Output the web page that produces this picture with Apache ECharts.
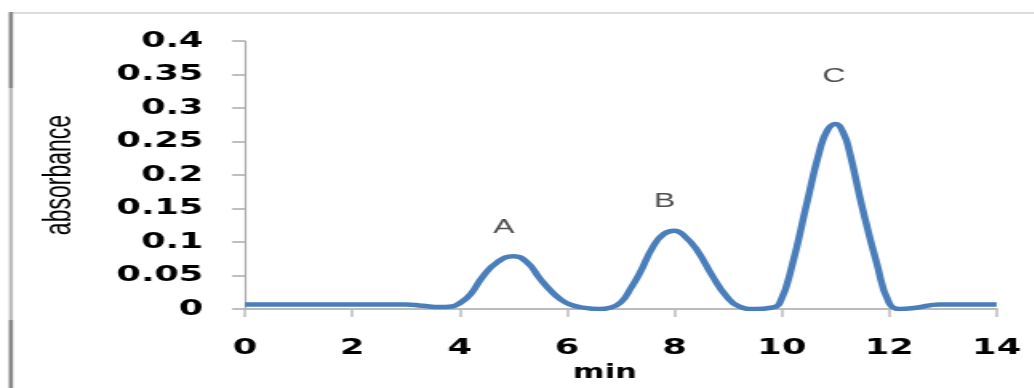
<!DOCTYPE html>
<html>
<head>
<meta charset="utf-8">
<script src="https://cdn.jsdelivr.net/npm/echarts@6/dist/echarts.min.js"></script>
<style>
  html, body { margin: 0; padding: 0; background: #fff; }
  #wrap { width: 1034px; height: 388px; overflow: hidden; position: relative; }
  #chart { width: 646.25px; height: 388px; transform: scaleX(1.6); transform-origin: 0 0; }
</style>
</head>
<body>
<div id="wrap"><div id="chart"></div></div>
<script>
// Elution time (min) and absorbance
const timeMin = [0, 0.5, 1, 1.5, 2, 2.5, 3.0, 3.3, 3.63, 3.85, 4.0, 4.2, 4.43, 4.7, 5.0, 5.25, 5.49, 5.7, 5.87, 6.05, 6.24, 6.6, 6.8, 7.0, 7.2, 7.35, 7.6, 7.8, 8.0, 8.2, 8.42, 8.71, 8.97, 9.2, 9.5, 9.8, 9.96, 10.2, 10.46, 10.7, 10.85, 11.0, 11.15, 11.26, 11.5, 11.77, 12.0, 12.2, 12.5, 12.94, 13.5, 14];
const absorbance = [0.007, 0.007, 0.007, 0.007, 0.007, 0.007, 0.007, 0.005, 0.003, 0.004, 0.009, 0.022, 0.0485, 0.07, 0.079, 0.070, 0.046, 0.027, 0.015, 0.007, 0.003, 0.0, 0.002, 0.010, 0.033, 0.053, 0.093, 0.112, 0.117, 0.108, 0.088, 0.049, 0.019, 0.004, 0.0, 0.002, 0.009, 0.068, 0.156, 0.235, 0.267, 0.276, 0.262, 0.235, 0.151, 0.068, 0.009, 0.0, 0.002, 0.007, 0.007, 0.007];

// Peak labels and their anchor positions (data units)
const peakNames = ['A', 'B', 'C'];
const peakLabelX = [4.82, 7.82, 10.97];
const peakLabelY = [0.122, 0.160, 0.347];

// Axis settings
const xTicks = [0, 2, 4, 6, 8, 10, 12, 14];
const yTicks = [0, 0.05, 0.1, 0.15, 0.2, 0.25, 0.3, 0.35, 0.4];
const xName = 'min';
const yName = 'absorbance';

const S = 1.6; // horizontal stretch of the reference image
const W = 1034 / S;

const chart = echarts.init(document.getElementById('chart'), null, { renderer: 'canvas' });

const lineData = timeMin.map((t, i) => [t, absorbance[i]]);
const labelData = peakNames.map((n, i) => ({ name: n, value: [peakLabelX[i], peakLabelY[i]] }));

const numFont = '"DejaVu Sans", "Liberation Sans", sans-serif';

chart.setOption({
  backgroundColor: '#ffffff',
  animation: false,
  graphic: [
    { type: 'rect', shape: { x: 13 / S, y: 12, width: W, height: 2 }, style: { fill: '#dcdcdc' }, silent: true },
    { type: 'rect', shape: { x: 9 / S, y: 12, width: 4 / S, height: 376 }, style: { fill: '#bdbdbd' }, silent: true },
    { type: 'rect', shape: { x: 9 / S, y: 12, width: 4 / S, height: 76 }, style: { fill: '#8a8a8a' }, silent: true },
    { type: 'rect', shape: { x: 9 / S, y: 320, width: 4 / S, height: 68 }, style: { fill: '#8a8a8a' }, silent: true }
  ],
  grid: { left: 245 / S, right: (1034 - 997) / S, top: 41, bottom: 75, containLabel: false },
  xAxis: {
    type: 'value',
    min: xTicks[0],
    max: xTicks[xTicks.length - 1],
    interval: xTicks[1] - xTicks[0],
    name: xName,
    nameLocation: 'middle',
    nameGap: 52,
    nameTextStyle: { fontFamily: numFont, fontWeight: 'bold', fontSize: 19, color: '#000', padding: [0, 20, 0, 0] },
    axisLine: { show: true, onZero: false, lineStyle: { color: '#bcbcbc', width: 2 } },
    axisTick: { show: true, inside: false, length: 8, lineStyle: { color: '#bcbcbc', width: 1.5 } },
    axisLabel: { margin: 28, fontFamily: numFont, fontWeight: 'bold', fontSize: 22, color: '#000' },
    splitLine: { show: false }
  },
  yAxis: {
    type: 'value',
    min: yTicks[0],
    max: yTicks[yTicks.length - 1],
    interval: yTicks[1] - yTicks[0],
    name: yName,
    nameLocation: 'middle',
    nameRotate: 90,
    nameGap: 104,
    nameTextStyle: { fontFamily: '"Liberation Sans", Arial, sans-serif', fontSize: 23, color: '#000' },
    axisLine: { show: true, lineStyle: { color: '#aaaaaa', width: 1.2 } },
    axisTick: { show: true, inside: false, length: 8, lineStyle: { color: '#aaaaaa', width: 1.5 } },
    axisLabel: {
      margin: 26, fontFamily: numFont, fontWeight: 'bold', fontSize: 22, color: '#000',
      formatter: v => String(Math.round(v * 100) / 100)
    },
    splitLine: { show: false }
  },
  series: [
    {
      type: 'line',
      data: lineData,
      smooth: 0.5,
      symbol: 'none',
      lineStyle: { color: '#4a7ebb', width: 4.5 },
      z: 3
    },
    {
      type: 'scatter',
      data: labelData,
      symbolSize: 0,
      silent: true,
      label: {
        show: true,
        position: 'inside',
        formatter: p => p.name,
        fontFamily: '"Liberation Sans", Arial, sans-serif',
        fontSize: 20,
        color: '#222'
      },
      z: 4
    }
  ]
});
</script>
</body>
</html>
